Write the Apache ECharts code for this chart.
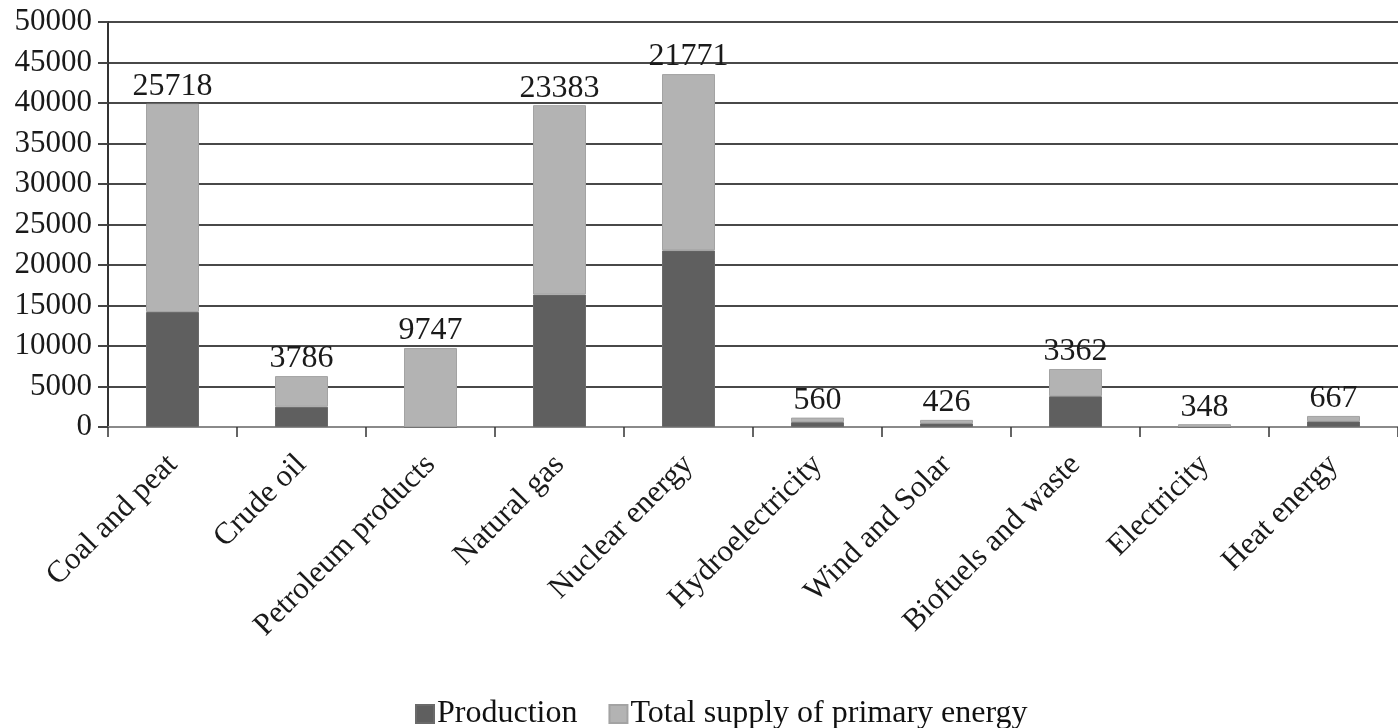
<!DOCTYPE html>
<html>
<head>
<meta charset="utf-8">
<script src="https://cdn.jsdelivr.net/npm/echarts@6/dist/echarts.min.js"></script>
<style>
  html, body { margin: 0; padding: 0; background: #fff; }
  #chart { width: 1398px; height: 728px; }
</style>
</head>
<body>
<div id="chart"></div>
<script>
// Energy balance by source: production vs. total supply of primary energy
const categories = ['Coal and peat', 'Crude oil', 'Petroleum products', 'Natural gas', 'Nuclear energy',
  'Hydroelectricity', 'Wind and Solar', 'Biofuels and waste', 'Electricity', 'Heat energy'];
const production = [14200, 2500, 0, 16350, 21800, 600, 450, 3800, 0, 700];
const totalSupply = [25718, 3786, 9747, 23383, 21771, 560, 426, 3362, 348, 667];
const yTicks = { min: 0, max: 50000, interval: 5000 };

const serif = '"Liberation Serif", "DejaVu Serif", serif';

const chart = echarts.init(document.getElementById('chart'), null, { renderer: 'canvas' });
chart.setOption({
  animation: false,
  backgroundColor: '#ffffff',
  grid: { left: 108, right: 0, top: 22, bottom: 301, containLabel: false },
  legend: {
    left: 410, top: 692,
    icon: 'rect', itemWidth: 18, itemHeight: 18, itemGap: 31,
    textStyle: { fontFamily: serif, fontSize: 32, lineHeight: 34, color: '#111', padding: [0, 0, 0, -2] },
    data: ['Production', 'Total supply of primary energy']
  },
  xAxis: {
    type: 'category',
    data: categories,
    axisLine: { show: true, lineStyle: { color: '#8a8a8a', width: 2 } },
    axisTick: { show: true, length: 10, alignWithLabel: false, lineStyle: { color: '#333', width: 1.5 } },
    axisLabel: { rotate: 45, margin: 33, interval: 0, fontFamily: serif, fontSize: 31, color: '#1a1a1a' }
  },
  yAxis: {
    type: 'value',
    min: yTicks.min, max: yTicks.max, interval: yTicks.interval,
    axisLine: { show: true, lineStyle: { color: '#333', width: 2 } },
    axisTick: { show: true, length: 10, lineStyle: { color: '#444', width: 2 } },
    axisLabel: {
      margin: 16, fontFamily: serif, fontSize: 31, color: '#1a1a1a',
      formatter: (v) => String(v)
    },
    splitLine: { show: true, lineStyle: { color: '#484848', width: 2 } }
  },
  series: [
    {
      name: 'Production', type: 'bar', stack: 'energy',
      barWidth: 53,
      itemStyle: { color: '#5f5f5f', borderColor: '#6a6a6a', borderWidth: 1 },
      data: production
    },
    {
      name: 'Total supply of primary energy', type: 'bar', stack: 'energy',
      barWidth: 53,
      itemStyle: { color: '#b3b3b3', borderColor: '#a3a3a3', borderWidth: 1 },
      label: {
        show: true, position: 'top', distance: 1,
        fontFamily: serif, fontSize: 32, color: '#1a1a1a'
      },
      data: totalSupply
    }
  ]
});
</script>
</body>
</html>
